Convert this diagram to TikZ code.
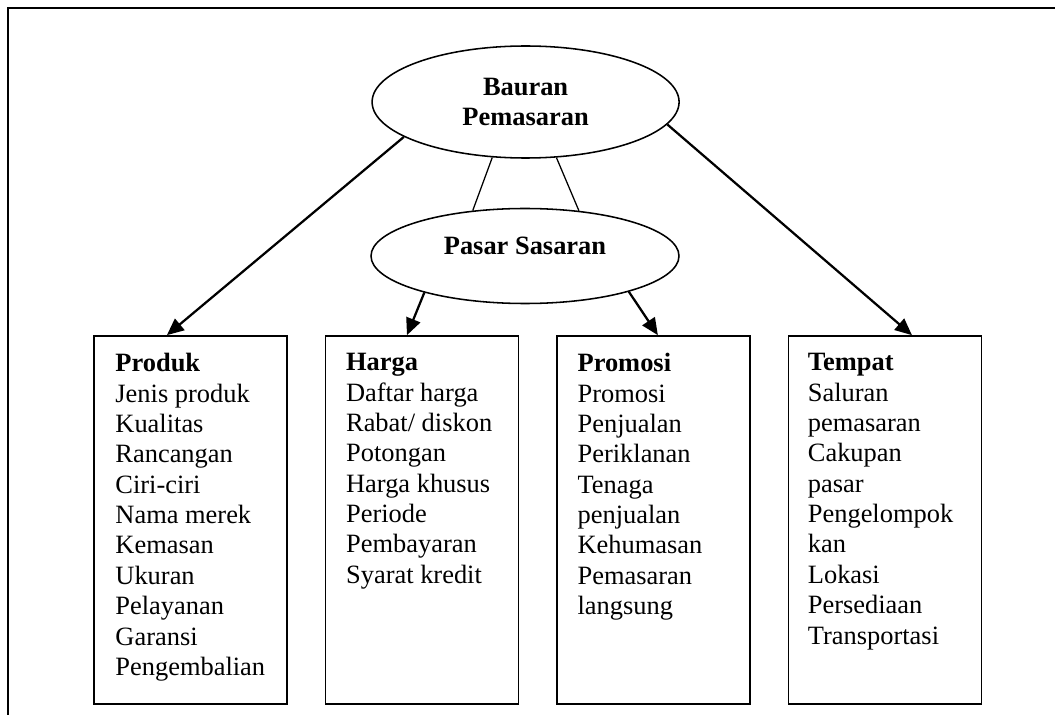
\documentclass[tikz,border=0pt]{standalone}
\usepackage{fontspec}
\setmainfont{Liberation Serif}
\usetikzlibrary{shapes.geometric, arrows.meta, positioning}

\begin{document}
\begin{tikzpicture}[
    oval/.style={ellipse, draw=black, line width=1.1pt, align=center, inner sep=0pt,
      font=\fontsize{18.8pt}{21.9pt}\selectfont\bfseries},
    box/.style={draw=black, line width=1.2pt, minimum width=4.825cm, minimum height=9.2cm, inner sep=0pt},
    itemlist/.style={anchor=north west, align=left, inner sep=0pt, font=\fontsize{18.8pt}{21.6pt}\selectfont},
    arrow/.style={-{Triangle[length=12pt, width=10.5pt]}, line width=1.6pt},
    link/.style={line width=0.9pt}
  ]
  \useasboundingbox (0,0) rectangle (26.375,-17.875);
  \draw[line width=1.6pt] (0.2,-17.875) -- (0.2,-0.2) -- (26.375,-0.2);

  \node[oval, minimum width=7.675cm, minimum height=2.8cm] (bauran) at (13.14,-2.55) {Bauran\\Pemasaran};
  \node[oval, minimum width=7.7cm, minimum height=2.375cm, text depth=0.5cm] (pasar) at (13.125,-6.4) {Pasar Sasaran};

  \node[box] (produk) at (4.7625,-13) {};
  \node[box, right=0.92cm of produk] (harga) {};
  \node[box, right=0.92cm of harga] (promosi) {};
  \node[box, right=0.92cm of promosi] (tempat) {};

  \node[itemlist] (produkList) at ([shift={(0.55,-0.45)}]produk.north west) {\textbf{Produk}\\Jenis produk\\Kualitas\\Rancangan\\Ciri-ciri\\Nama merek\\Kemasan\\Ukuran\\Pelayanan\\Garansi\\Pengembalian};
  \node[itemlist] (hargaList) at ([shift={(0.53,-0.45)}]harga.north west) {\textbf{Harga}\\Daftar harga\\Rabat/ diskon\\Potongan\\Harga khusus\\Periode\\Pembayaran\\Syarat kredit};
  \node[itemlist] (promosiList) at ([shift={(0.53,-0.45)}]promosi.north west) {\textbf{Promosi}\\Promosi\\Penjualan\\Periklanan\\Tenaga\\penjualan\\Kehumasan\\Pemasaran\\langsung};
  \node[itemlist] (tempatList) at ([shift={(0.5,-0.45)}]tempat.north west) {\textbf{Tempat}\\Saluran\\pemasaran\\Cakupan\\pasar\\Pengelompok\\kan\\Lokasi\\Persediaan\\Transportasi};

  \draw[arrow] (bauran.196.8) -- ([xshift=-0.59cm]produk.north);
  \draw[arrow] (bauran.351.2) -- ([xshift=0.675cm]tempat.north);
  \draw[link] (bauran.239) -- (pasar.139);
  \draw[link] (bauran.299.4) -- (pasar.40);
  \draw[arrow] (pasar.200.2) -- ([xshift=-0.375cm]harga.north);
  \draw[arrow] (pasar.341.2) -- ([xshift=0.11cm]promosi.north);
\end{tikzpicture}
\end{document}
